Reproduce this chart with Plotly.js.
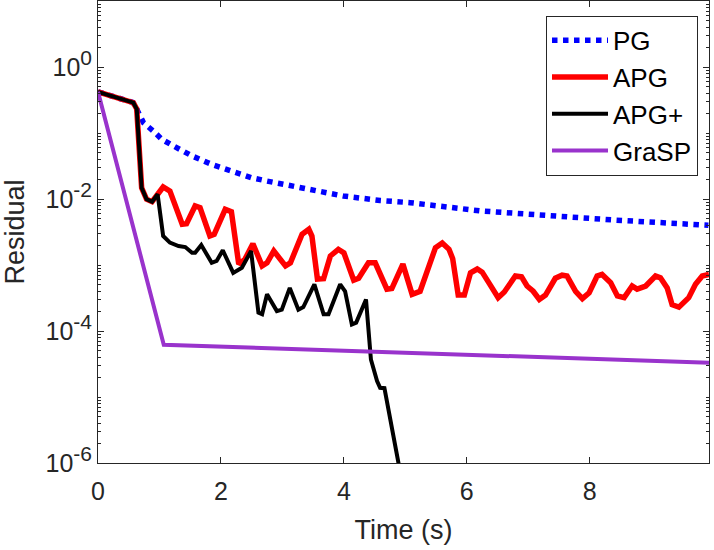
<!DOCTYPE html>
<html>
<head>
<meta charset="utf-8">
<script src="https://cdn.plot.ly/plotly-3.0.1.min.js"></script>
<style>html,body{margin:0;padding:0;background:#fff;}#chart{width:714px;height:550px;}</style>
</head>
<body>
<div id="chart"></div>
<script>
// PG
const pgTime = [0, 0.57, 0.63, 0.74, 0.90, 1.04, 1.20, 1.36, 1.53, 1.85, 2.18, 2.50, 2.75, 3.29, 3.99, 4.59, 5.08, 6.22, 7.31, 8.39, 9.93];
const pgRes  = [0.42, 0.29, 0.23, 0.143, 0.107, 0.080, 0.0658, 0.0534, 0.0449, 0.0335, 0.0266, 0.021, 0.0187, 0.0147, 0.0111, 0.0095, 0.0088, 0.0066, 0.0055, 0.0048, 0.0040];

// APG
const apgTime = [0, 0.575, 0.63, 0.71, 0.79, 0.88, 1.06, 1.17, 1.37, 1.44, 1.58, 1.66, 1.82, 1.89, 2.07, 2.17, 2.29, 2.39, 2.52, 2.67, 2.75, 2.86, 3.05, 3.13, 3.32, 3.43, 3.48, 3.57, 3.67, 3.78, 3.91, 4.00, 4.16, 4.24, 4.40, 4.51, 4.70, 4.78, 4.96, 5.11, 5.24, 5.49, 5.60, 5.71, 5.77, 5.86, 5.96, 6.06, 6.17, 6.25, 6.38, 6.51, 6.61, 6.79, 6.89, 6.98, 7.08, 7.18, 7.28, 7.44, 7.55, 7.63, 7.77, 7.88, 7.99, 8.12, 8.20, 8.34, 8.45, 8.56, 8.69, 8.77, 8.91, 9.07, 9.15, 9.26, 9.34, 9.45, 9.61, 9.72, 9.83, 9.94];
const apgRes  = [0.42, 0.288, 0.231, 0.0148, 0.0099, 0.0091, 0.0152, 0.0132, 0.00414, 0.00423, 0.00783, 0.00738, 0.00275, 0.00292, 0.00698, 0.00643, 0.00103, 0.00122, 0.0021, 0.00097, 0.00108, 0.00163, 0.00097, 0.00108, 0.00292, 0.00348, 0.00275, 0.00061, 0.00062, 0.00137, 0.00173, 0.00153, 0.00059, 0.00063, 0.00108, 0.00108, 0.00043, 0.00044, 0.00103, 0.00036, 0.00040, 0.00183, 0.00215, 0.00173, 0.00125, 0.00035, 0.00035, 0.00076, 0.00087, 0.00078, 0.0005, 0.00032, 0.00039, 0.00068, 0.00066, 0.00048, 0.0004, 0.0003, 0.00035, 0.00063, 0.0007, 0.00068, 0.0004, 0.00031, 0.00038, 0.00068, 0.00072, 0.00054, 0.00034, 0.00032, 0.00048, 0.00043, 0.00048, 0.00068, 0.00064, 0.00045, 0.00025, 0.00023, 0.00032, 0.00051, 0.00068, 0.00072];

// APG+
const apgpTime = [0, 0.575, 0.63, 0.71, 0.79, 0.88, 0.97, 1.06, 1.17, 1.31, 1.42, 1.53, 1.58, 1.68, 1.85, 1.93, 2.03, 2.20, 2.34, 2.49, 2.61, 2.67, 2.75, 2.91, 2.99, 3.12, 3.26, 3.34, 3.52, 3.67, 3.75, 3.94, 4.02, 4.13, 4.20, 4.36, 4.44, 4.54, 4.59, 4.66, 4.89, 4.95];
const apgpRes  = [0.42, 0.288, 0.231, 0.0148, 0.0099, 0.0091, 0.0118, 0.00275, 0.00218, 0.00194, 0.00187, 0.00153, 0.00153, 0.00201, 0.00108, 0.00115, 0.00167, 0.00076, 0.00091, 0.00163, 0.00019, 0.00018, 0.00036, 0.0002, 0.00021, 0.00045, 0.00021, 0.00023, 0.00051, 0.00018, 0.00018, 0.00051, 0.0004, 0.000126, 0.000134, 0.0003, 3.7e-5, 1.75e-5, 1.38e-5, 1.36e-5, 9.8e-7, 6e-7];

// GraSP
const graspTime = [0, 1.07, 9.94];
const graspRes  = [0.42, 6.2e-5, 3.3e-5];

// Axis tick labels
const xTickVals = [0, 2, 4, 6, 8];
const xTickText = ['0', '2', '4', '6', '8'];
const yTickVals = [1e-6, 1e-4, 1e-2, 1];
const yExponents = ['-6', '-4', '-2', '0'];
const yTickText = yExponents.map(e => '10<sup><span style="font-size:21px">' + e + '</span></sup>');

const minorVals = [];
for (let e = -6; e < 1; e++) for (let m = 2; m <= 9; m++) minorVals.push(m * Math.pow(10, e));
minorVals.push(1e-5, 1e-3, 1e-1, 10);

const axisColor = '#262626';
const font = 'Liberation Sans, Arial, Helvetica, sans-serif';

const traces = [
  {x: pgTime, y: pgRes, name: 'PG', mode: 'lines', line: {color: '#0000ff', width: 5.5, dash: '5.5px,5.5px'}},
  {x: apgTime, y: apgRes, name: 'APG', mode: 'lines', line: {color: '#ff0000', width: 5.5}},
  {x: apgpTime, y: apgpRes, name: 'APG+', mode: 'lines', line: {color: '#000000', width: 4}},
  {x: graspTime, y: graspRes, name: 'GraSP', mode: 'lines', line: {color: '#9933cc', width: 4}}
];

const layout = {
  width: 714, height: 550,
  margin: {l: 98, r: 5, t: 1, b: 87},
  paper_bgcolor: '#fff', plot_bgcolor: '#fff',
  font: {family: font, color: axisColor, size: 25},
  showlegend: true,
  legend: {
    x: 0.982, y: 0.968, xanchor: 'right', yanchor: 'top',
    bgcolor: '#fff', bordercolor: axisColor, borderwidth: 1,
    font: {family: font, size: 26, color: '#000'},
    itemwidth: 56
  },
  xaxis: {
    range: [0, 9.94],
    tickmode: 'array', tickvals: xTickVals, ticktext: xTickText,
    ticks: 'inside', ticklen: 6, tickcolor: axisColor, tickwidth: 1,
    showline: true, linecolor: axisColor, linewidth: 1, mirror: 'ticks',
    showgrid: false, zeroline: false,
    ticklabelstandoff: 6,
    tickfont: {size: 25, color: axisColor},
    title: {text: 'Time (s)', font: {size: 27, color: axisColor}, standoff: 16}
  },
  yaxis: {
    type: 'log', range: [-6, 1],
    tickmode: 'array', tickvals: yTickVals, ticktext: yTickText,
    ticks: 'inside', ticklen: 6, tickcolor: axisColor, tickwidth: 1,
    showline: true, linecolor: axisColor, linewidth: 1, mirror: 'ticks',
    showgrid: false, zeroline: false,
    tickfont: {size: 25, color: axisColor},
    minor: {tickmode: 'array', tickvals: minorVals, ticks: 'inside', ticklen: 3, tickcolor: axisColor, showgrid: false},
    title: {text: 'Residual', font: {size: 27, color: axisColor}, standoff: 13}
  }
};

Plotly.newPlot('chart', traces, layout, {displayModeBar: false, staticPlot: true});
</script>
</body>
</html>
